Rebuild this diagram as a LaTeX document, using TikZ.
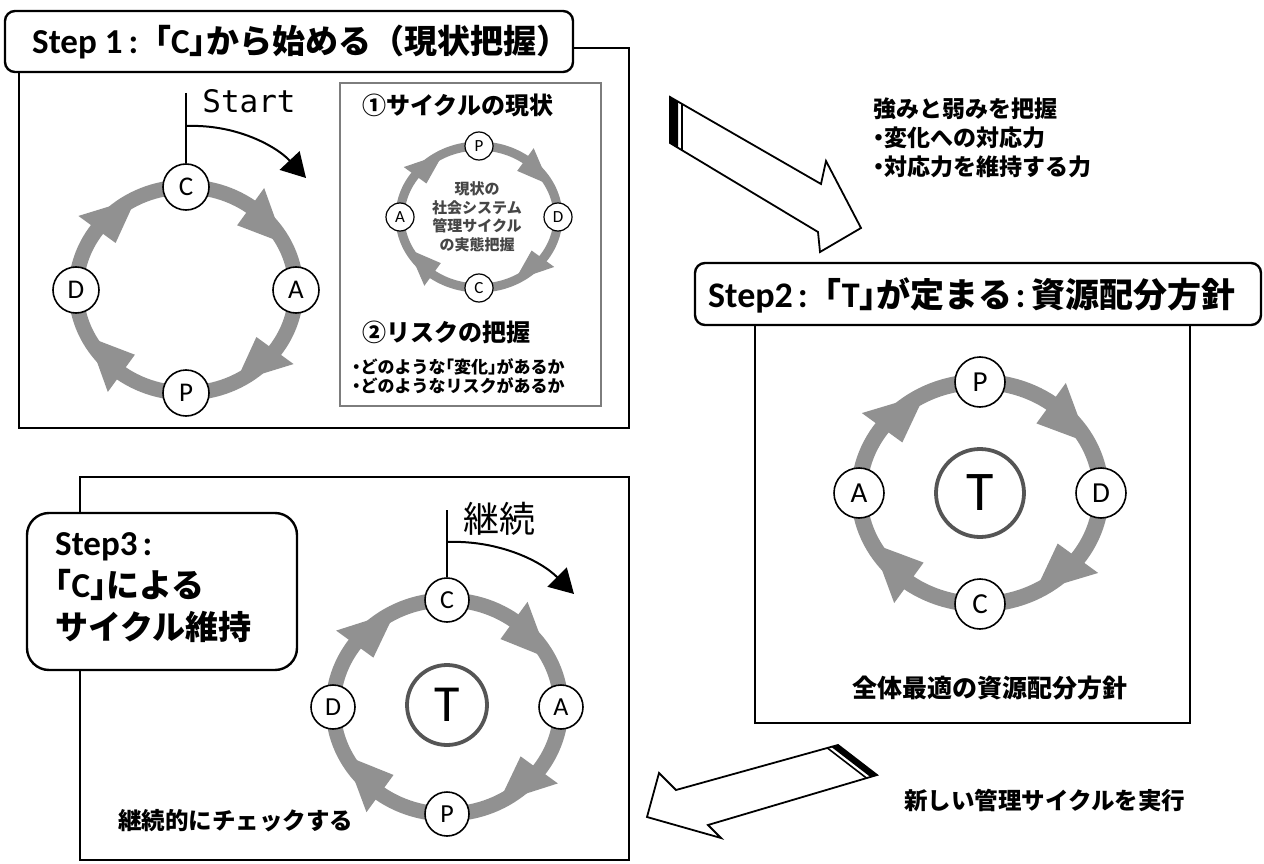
\documentclass[tikz,border=0pt]{standalone}
\usepackage{fontspec}
\usetikzlibrary{arrows.meta}
\newfontfamily\jp{Noto Sans CJK JP}
\newfontfamily\jph{Noto Sans CJK JP}[RawFeature=+halt]
\newfontfamily\carl{Carlito}
\newfontfamily\mono{DejaVu Sans Mono}
\definecolor{ring}{RGB}{145,145,145}
\definecolor{tring}{RGB}{85,85,85}
\definecolor{boxgray}{RGB}{125,125,125}
\definecolor{softtext}{RGB}{70,70,70}
\newcommand\fsz[1]{\fontsize{#1}{#1}\selectfont}
% band + arrowheads of a cycle: cx, cy, rx, ry, band width, head half width
\newcommand\ringband[6]{%
  \draw[ring, line width=#5] (#1,#2) ellipse [x radius=#3pt, y radius=#4pt];
  \foreach \aa in {90,0,-90,180}{%
    \pgfmathsetmacro\rb{\aa-36}%
    \pgfmathsetmacro\rt{\aa-63}%
    \fill[ring]
      ({#1+(#3+#6)*cos(\rb)},{#2-(#4+#6)*sin(\rb)}) --
      ({#1+#3*cos(\rt)},{#2-#4*sin(\rt)}) --
      ({#1+(#3-#6)*cos(\rb)},{#2-(#4-#6)*sin(\rb)}) -- cycle;
  }%
}
\tikzset{
  frame/.style={draw, line width=2.4},
  titlebox/.style={draw, fill=white, line width=2.4, rounded corners=10},
  cnode/.style={circle, draw, line width=1.6, fill=white, minimum size=#1, inner sep=0pt},
  tnode/.style={circle, draw=tring, line width=3.8, fill=white, minimum size=#1, inner sep=0pt},
  blockarrow/.style={draw, line width=1.8, fill=white, line join=miter},
  startarrow/.style={line width=2, -{Triangle[length=24pt,width=27pt]}},
  jtext/.style={inner sep=0pt, anchor=west},
}
\begin{document}
\begin{tikzpicture}[x=1pt,y=-1pt]
\useasboundingbox (0,0) rectangle (1264,864);
\fill[white] (0,0) rectangle (1264,864);

% ---------------- Step 1 ----------------
\draw[frame] (19,48) rectangle (629,428);
\draw[titlebox] (5,11) rectangle (573,72);
\node[jtext] (t1) at (32,42) {\bfseries{\carl\fsz{35}Step 1\kern6pt:}{\jp\fsz{33}「}{\carl\fsz{35}C}{\jph\fsz{33}」}{\jp\fsz{33}から始める（現状把握）}};

\ringband{186}{290}{110}{103}{15}{23}
\node[cnode=46, font=\carl\fsz{27}] (s1c) at (186,187) {C};
\node[cnode=46, font=\carl\fsz{27}] (s1a) at (296,290) {A};
\node[cnode=46, font=\carl\fsz{27}] (s1p) at (186,393) {P};
\node[cnode=46, font=\carl\fsz{27}] (s1d) at (76,290) {D};
\coordinate (s1top) at (186,93);
\coordinate (s1bend) at (186,126);
\coordinate (s1tip) at (306,178);
\draw[line width=2] (s1top) -- (s1c.north);
\draw[startarrow] (s1bend) .. controls (236,124) and (276,146) .. (s1tip);
\node[inner sep=0pt] (start) at (249,101) {\mono\fsz{31}Start};

% inner box
\draw[boxgray, line width=1.3] (340,83) rectangle (601,406);
\node[jtext] (q1) at (362,105) {\jp\bfseries\fsz{24}①サイクルの現状};
\ringband{479}{217}{79}{71}{9}{14}
\node[cnode=28, line width=1.2, font=\carl\fsz{17}] (ip) at (479,146) {P};
\node[cnode=28, line width=1.2, font=\carl\fsz{17}] (id) at (558,217) {D};
\node[cnode=28, line width=1.2, font=\carl\fsz{17}] (ic) at (479,288) {C};
\node[cnode=28, line width=1.2, font=\carl\fsz{17}] (ia) at (400,217) {A};
\node[align=center, inner sep=0pt, text=softtext, font=\jp\bfseries\fontsize{15}{18.5}\selectfont] (itxt) at (477,217) {現状の\\社会システム\\管理サイクル\\の実態把握};
\node[jtext] (q2) at (362,332) {\jp\bfseries\fsz{24}②リスクの把握};
\node[jtext] (q2a) at (352,367) {\jph\bfseries\fsz{17}・どのような「変化」があるか};
\node[jtext] (q2b) at (352,386) {\jph\bfseries\fsz{17}・どのようなリスクがあるか};

% ---------------- Arrow 1 ----------------
\draw[blockarrow] (670,97) -- (821,184) -- (826,161) -- (861,228) -- (820,252) -- (818,232) -- (670,143) -- cycle;
\fill (670,97) -- (678,101.6) -- (678,147.6) -- (670,143) -- cycle;
\draw[line width=1.6] (682,104) -- (682,150);
\node[align=left, inner sep=0pt, anchor=north west, font=\jph\bfseries\fontsize{23}{29}\selectfont] (note1) at (873,98) {強みと弱みを把握\\・変化への対応力\\・対応力を維持する力};

% ---------------- Step 2 ----------------
\draw[frame] (755,294) rectangle (1190,723);
\draw[titlebox] (695,263) rectangle (1261,325);
\node[jtext] (t2) at (708,295) {\bfseries{\carl\fsz{36}Step2\kern5pt:}{\jp\fsz{34}「}{\carl\fsz{36}T}{\jph\fsz{34}」}{\jp\fsz{34}が定まる}{\carl\fsz{36}\kern3pt:\kern6pt}{\jp\fsz{34}資源配分方針}};
\ringband{980}{493}{121}{111}{16}{25}
\node[cnode=50, font=\carl\fsz{29}] (s2p) at (980,382) {P};
\node[cnode=50, font=\carl\fsz{29}] (s2d) at (1101,493) {D};
\node[cnode=50, font=\carl\fsz{29}] (s2c) at (980,604) {C};
\node[cnode=50, font=\carl\fsz{29}] (s2a) at (859,493) {A};
\node[tnode=88, font=\carl\fsz{56}] (s2t) at (980,493) {T};
\node[inner sep=0pt] (s2cap) at (990,688) {\jp\bfseries\fsz{25}全体最適の資源配分方針};

% ---------------- Arrow 2 ----------------
\draw[blockarrow] (838,745) -- (676,790) -- (659,773) -- (647,817) -- (721,838) -- (708,825) -- (877,775) -- cycle;
\fill (838,745) -- (877,775) -- (870.3,776.9) -- (831.3,746.9) -- cycle;
\draw[line width=1.6] (827.4,748.0) -- (866.4,778.0);
\node[jtext] (note2) at (904,800) {\jp\bfseries\fsz{23.5}新しい管理サイクルを実行};

% ---------------- Step 3 ----------------
\draw[frame] (80,477) rectangle (629,860);
\draw[titlebox, rounded corners=22] (27,513) rectangle (297,670);
\node[jtext, align=left, font=\bfseries\fontsize{33}{42}\selectfont] (t3) at (55,588)
  {{\carl\fsz{35}Step3\kern5pt:}\\{\jph 「}{\carl\fsz{35}C}{\jph 」}{\jp による}\\{\jp サイクル維持}};
\ringband{447}{707}{114}{107}{15}{23}
\node[cnode=44, font=\carl\fsz{26}] (s3c) at (447,600) {C};
\node[cnode=44, font=\carl\fsz{26}] (s3a) at (561,707) {A};
\node[cnode=44, font=\carl\fsz{26}] (s3p) at (447,814) {P};
\node[cnode=44, font=\carl\fsz{26}] (s3d) at (333,707) {D};
\node[tnode=80, font=\carl\fsz{52}] (s3t) at (447,705) {T};
\coordinate (s3top) at (447,510);
\coordinate (s3bend) at (447,542);
\coordinate (s3tip) at (574,594);
\draw[line width=2] (s3top) -- (s3c.north);
\draw[startarrow] (s3bend) .. controls (497,540) and (540,560) .. (s3tip);
\node[jtext] (keizoku) at (463,519) {\jp\fsz{36}継続};
\node[jtext] (check) at (118,821) {\jp\bfseries\fsz{23.5}継続的にチェックする};
\end{tikzpicture}
\end{document}
